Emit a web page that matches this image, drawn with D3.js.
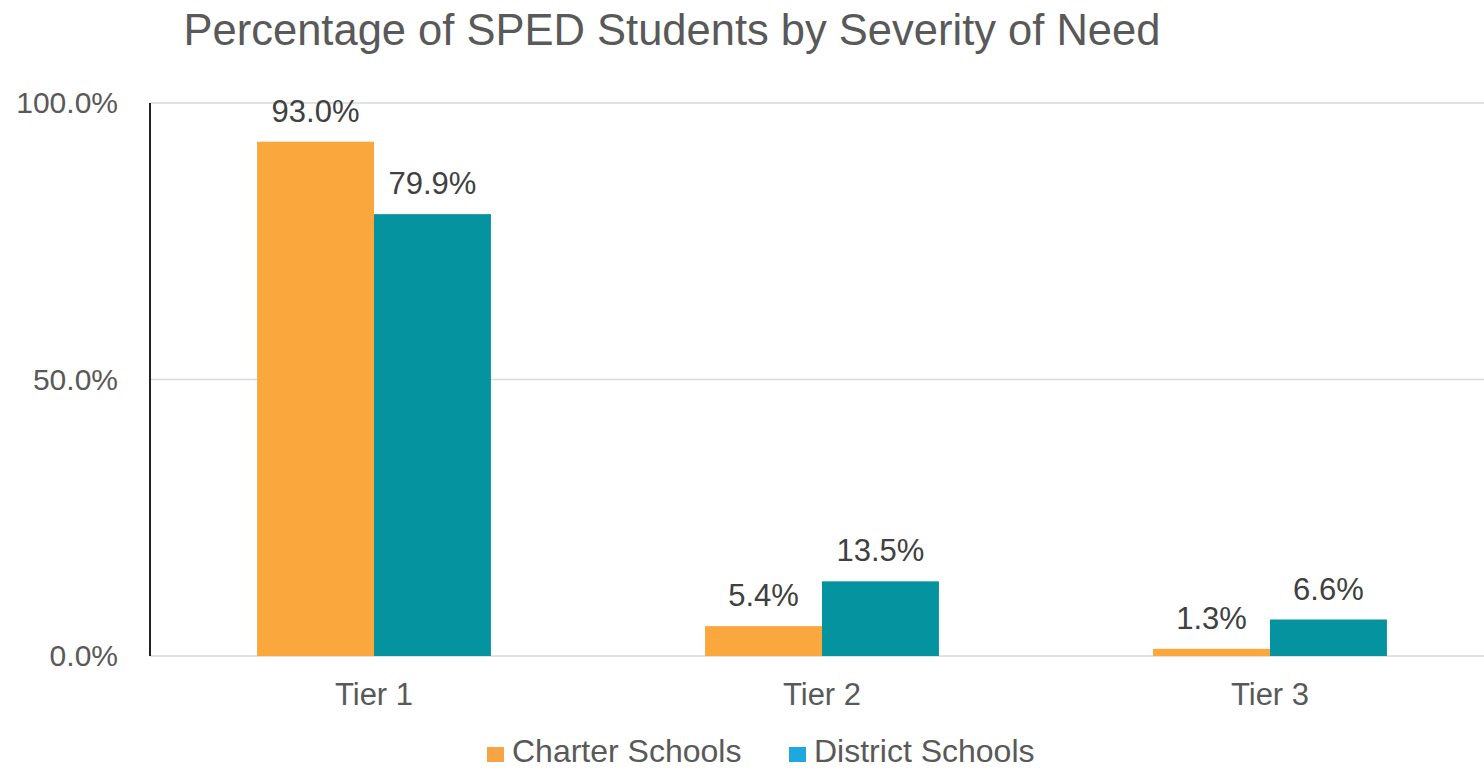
<!DOCTYPE html>
<html><head><meta charset="utf-8">
<script src="https://cdn.jsdelivr.net/npm/d3@7"></script>
<style>body{margin:0;background:#fff;}svg{display:block;font-family:"Liberation Sans",Arial,Helvetica,sans-serif;}</style>
</head><body>
<svg id="c" width="1484" height="769"></svg>
<script>
const categories = ["Tier 1", "Tier 2", "Tier 3"];
const seriesNames = ["Charter Schools", "District Schools"];
const charter = [93.0, 5.4, 1.3];
const district = [79.9, 13.5, 6.6];
const yTicks = [0, 50, 100];
const title = "Percentage of SPED Students by Severity of Need";

const barColors = ["#FAA73D", "#05939F"];
const legendColors = ["#F7A444", "#1DA8DF"];

const svg = d3.select("#c");
const plotLeft = 150, plotRight = 1494, plotTop = 103, plotBottom = 656;

const x = d3.scaleBand().domain(categories).range([plotLeft, plotRight]).paddingInner(0.478).paddingOuter(0.239);
const x1 = d3.scaleBand().domain(seriesNames).range([0, x.bandwidth()]);
const y = d3.scaleLinear().domain([0, 100]).range([plotBottom, plotTop]);

// gridlines
svg.append("g").selectAll("line").data(yTicks).join("line")
  .attr("x1", plotLeft).attr("x2", 1484).attr("y1", d => y(d)).attr("y2", d => y(d))
  .attr("stroke", "#d9d9d9").attr("stroke-width", 1.5);

// y tick labels
svg.append("g").selectAll("text").data(yTicks).join("text")
  .attr("x", 118).attr("y", d => y(d) + 10).attr("text-anchor", "end")
  .attr("font-size", 30).attr("fill", "#595959")
  .text(d => d3.format(".1f")(d) + "%");

// y axis line
svg.append("line").attr("x1", plotLeft).attr("x2", plotLeft).attr("y1", plotTop).attr("y2", plotBottom)
  .attr("stroke", "#222").attr("stroke-width", 2);

const data = categories.map((c, i) => ({cat: c, vals: [charter[i], district[i]]}));

const groups = svg.append("g").selectAll("g").data(data).join("g")
  .attr("transform", d => `translate(${x(d.cat)},0)`);

groups.selectAll("rect").data(d => d.vals.map((v, j) => ({s: seriesNames[j], v, j}))).join("rect")
  .attr("x", d => x1(d.s)).attr("width", x1.bandwidth())
  .attr("y", d => y(d.v)).attr("height", d => y(0) - y(d.v))
  .attr("fill", d => barColors[d.j]);

groups.selectAll("text.lbl").data(d => d.vals.map((v, j) => ({s: seriesNames[j], v, j}))).join("text")
  .attr("class", "lbl")
  .attr("x", d => x1(d.s) + x1.bandwidth() / 2).attr("y", d => y(d.v) - 20)
  .attr("text-anchor", "middle").attr("font-size", 31).attr("fill", "#404040")
  .text(d => d3.format(".1f")(d.v) + "%");

// category labels
svg.append("g").selectAll("text").data(categories).join("text")
  .attr("x", d => x(d) + x.bandwidth() / 2).attr("y", 705)
  .attr("text-anchor", "middle").attr("font-size", 31).attr("fill", "#595959")
  .text(d => d);

// title
svg.append("text").attr("x", 672).attr("y", 45).attr("text-anchor", "middle")
  .attr("font-size", 43.5).attr("fill", "#595959").text(title);

// legend
const legendX = [487, 789];
const lg = svg.append("g").selectAll("g").data(seriesNames).join("g")
  .attr("transform", (d, i) => `translate(${legendX[i]},0)`);
lg.append("rect").attr("x", 0).attr("y", 747).attr("width", 17).attr("height", 15)
  .attr("fill", (d, i) => legendColors[i]);
lg.append("text").attr("x", 25).attr("y", 762).attr("font-size", 32).attr("fill", "#595959").text(d => d);
</script>
</body></html>
